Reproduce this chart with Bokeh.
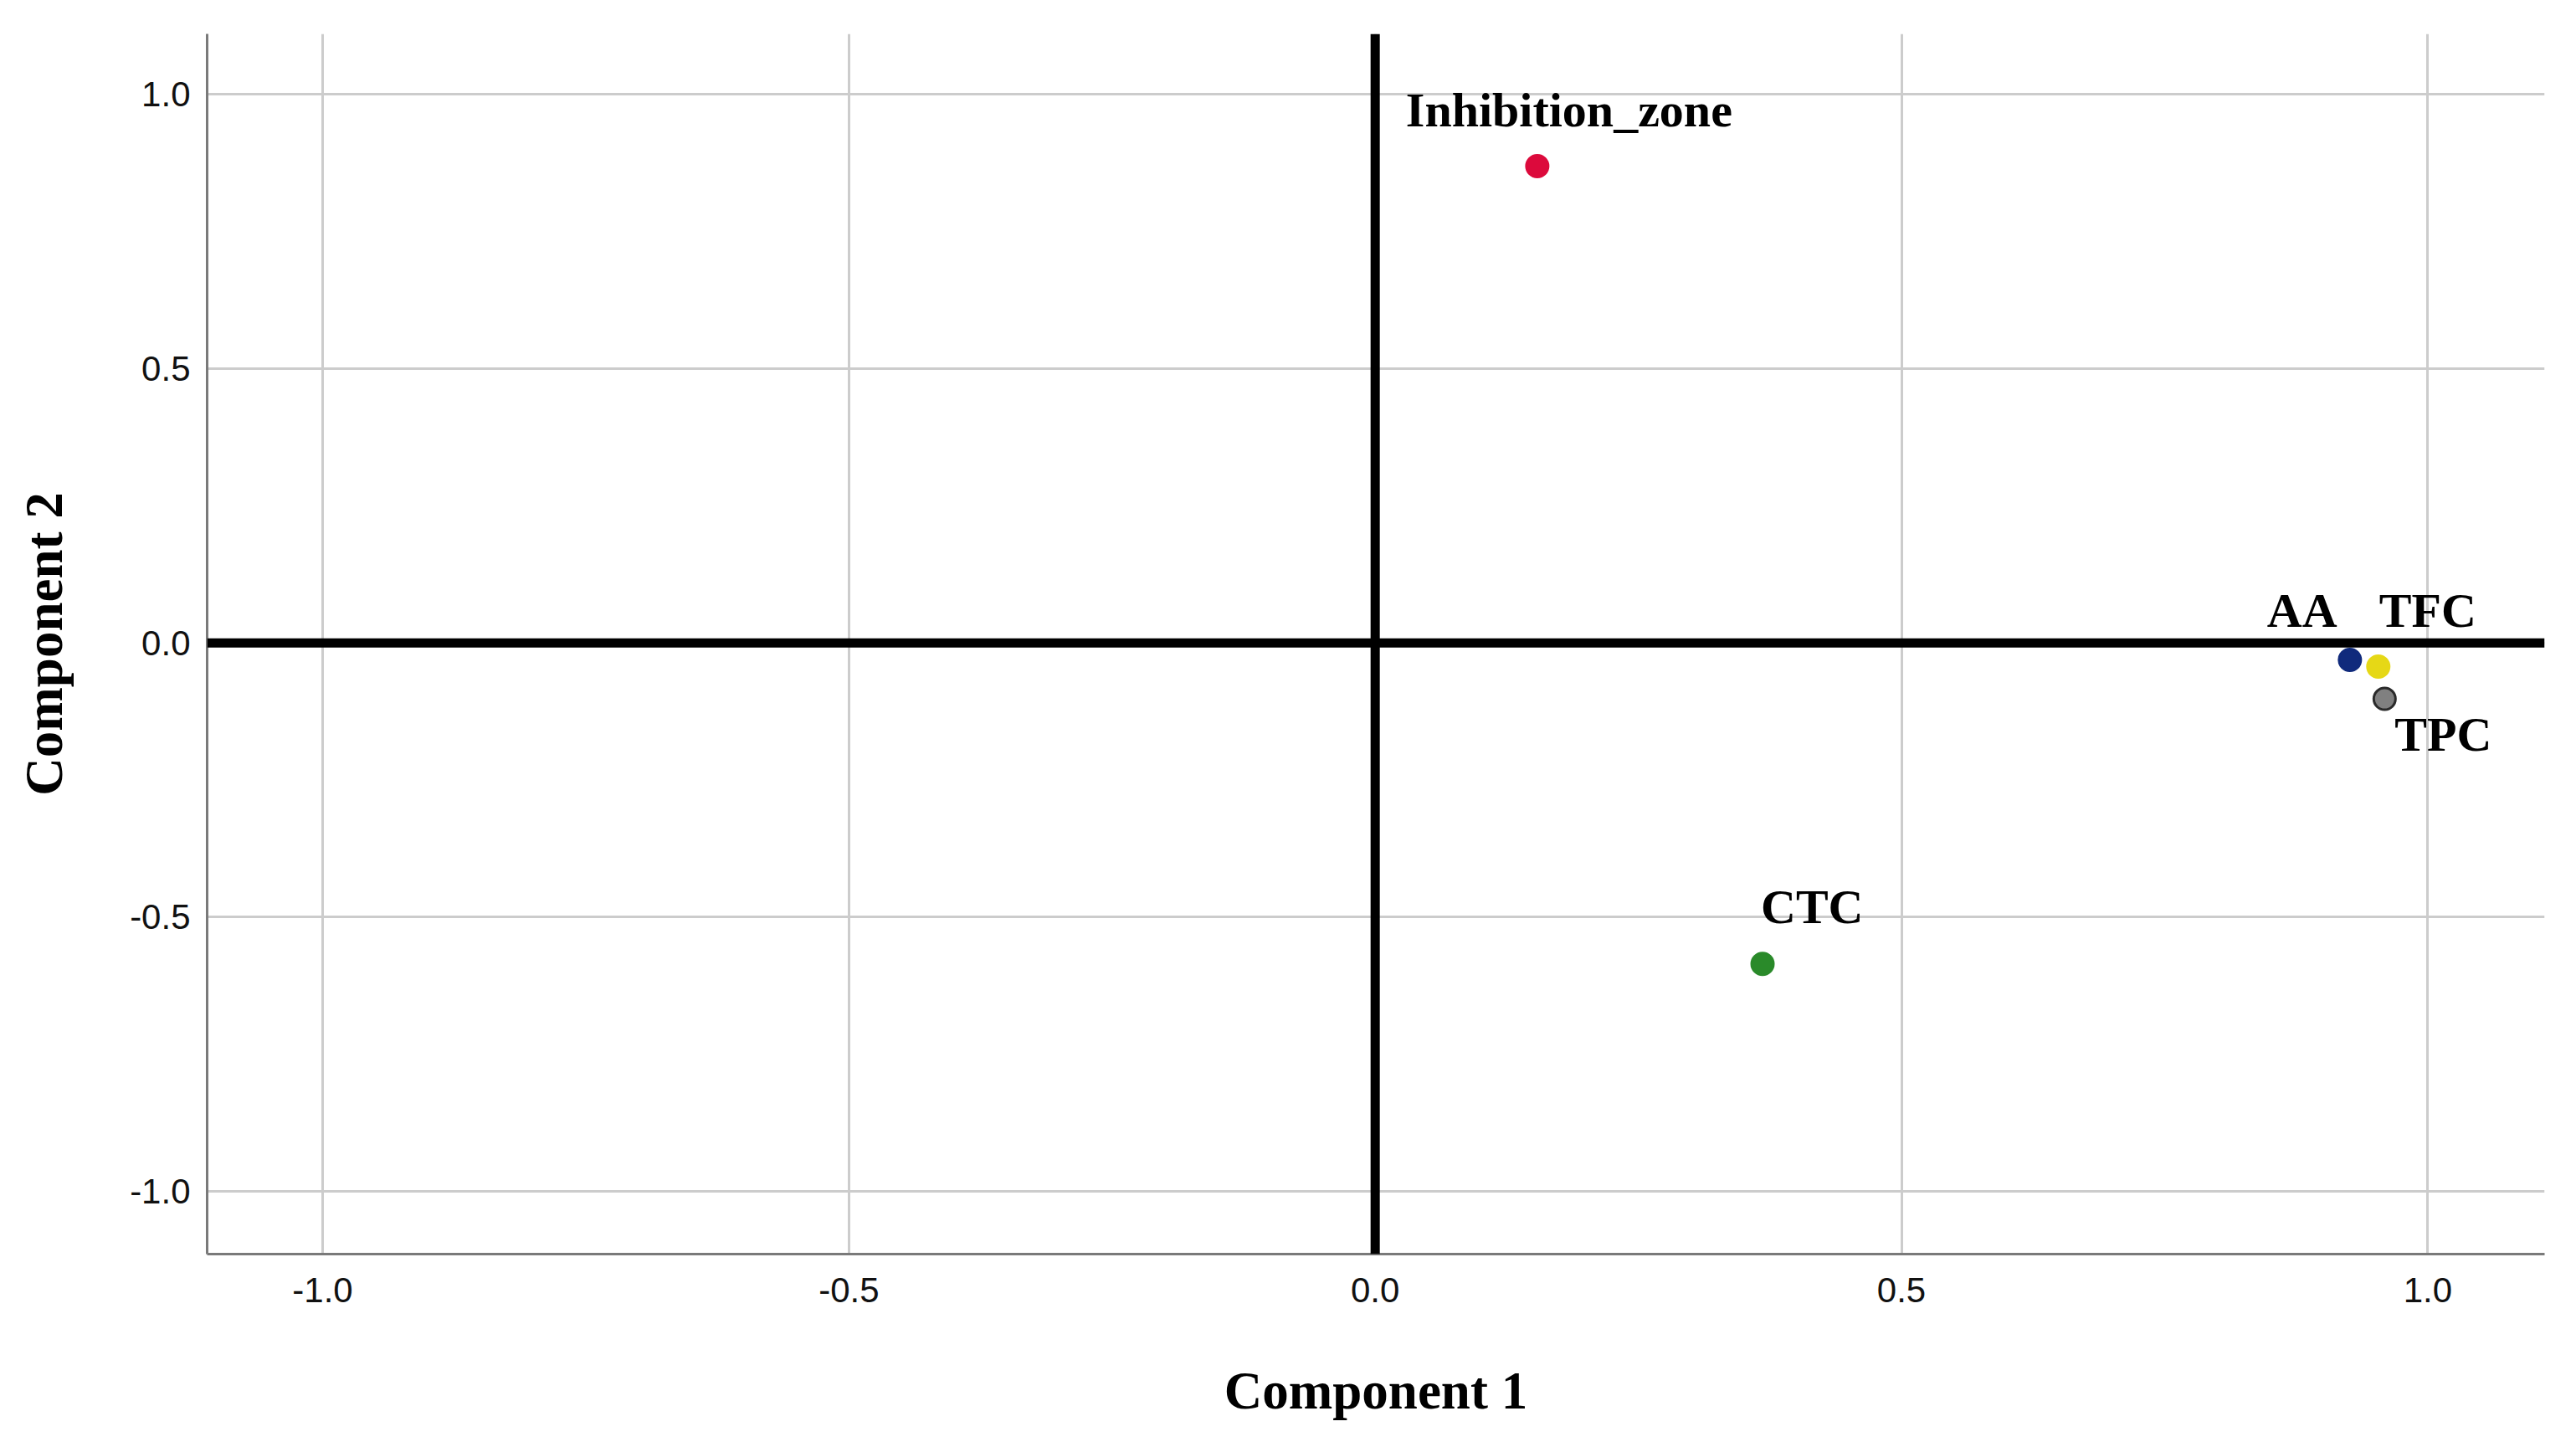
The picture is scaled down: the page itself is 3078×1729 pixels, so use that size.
from bokeh.plotting import figure
from bokeh.models import ColumnDataSource, Span, FixedTicker, Range1d
from bokeh.core.properties import value
from bokeh.embed import file_html
from bokeh.resources import INLINE

# ---- data ----
names = ["Inhibition_zone", "CTC", "AA", "TFC", "TPC"]
comp1 = [0.154, 0.368, 0.926, 0.953, 0.959]
comp2 = [0.869, -0.585, -0.031, -0.043, -0.102]
colors = ["#dc0a3c", "#2a8a2a", "#102a7c", "#e6d816", "#808080"]
outline = ["#dc0a3c", "#2a8a2a", "#102a7c", "#e6d816", "#2a2a2a"]
tick_values = [-1.0, -0.5, 0.0, 0.5, 1.0]
tick_labels = ["-1.0", "-0.5", "0.0", "0.5", "1.0"]

# label placement (screen px offsets from each point)
label_dx = [-157, -2, -99, 1, 12]
label_dy = [-67, -68, -59, -67, 42]

src = ColumnDataSource(dict(x=comp1, y=comp2, name=names, color=colors,
                            line=outline, dx=label_dx, dy=label_dy))

p = figure(frame_width=2793, frame_height=1458,
           min_border_left=247, min_border_right=25,
           min_border_top=40, min_border_bottom=223,
           x_range=Range1d(-1.1097, 1.111), y_range=Range1d(-1.114, 1.110),
           output_backend="svg", toolbar_location=None)

p.outline_line_color = None
p.background_fill_color = "white"
p.border_fill_color = "white"

for ax in (p.xaxis[0], p.yaxis[0]):
    ax.ticker = FixedTicker(ticks=tick_values)
    ax.major_label_overrides = {v: l for v, l in zip(tick_values, tick_labels)}
    ax.major_tick_line_color = None
    ax.minor_tick_line_color = None
    ax.major_tick_out = 0
    ax.major_tick_in = 0
    ax.axis_line_color = "#7a7a7a"
    ax.axis_line_width = 3
    ax.major_label_text_font = "Liberation Sans"
    ax.major_label_text_font_size = "42px"
    ax.major_label_text_color = "#111111"
    ax.axis_label_text_font = "Liberation Serif"
    ax.axis_label_text_font_style = "bold"
    ax.axis_label_text_font_size = "63px"
    ax.axis_label_text_color = "black"

p.xaxis.axis_label = "Component 1"
p.yaxis.axis_label = "Component 2"
p.xaxis.major_label_standoff = 28
p.yaxis.major_label_standoff = 20
p.xaxis.axis_label_standoff = 68
p.yaxis.axis_label_standoff = 64

for g in (p.xgrid[0], p.ygrid[0]):
    g.ticker = FixedTicker(ticks=tick_values)
    g.grid_line_color = "#cccccc"
    g.grid_line_width = 3

p.add_layout(Span(location=0, dimension="width", line_color="black", line_width=11))
p.add_layout(Span(location=0, dimension="height", line_color="black", line_width=11))

p.scatter("x", "y", source=src, size=26, fill_color="color", line_color="line",
          line_width=3)

p.text("x", "y", text="name", source=src, x_offset="dx", y_offset="dy",
       text_font=value("Liberation Serif"), text_font_style="bold",
       text_font_size="58px", text_color="black",
       text_align="left", text_baseline="alphabetic")

open("out.html", "w").write(file_html(p, INLINE))
